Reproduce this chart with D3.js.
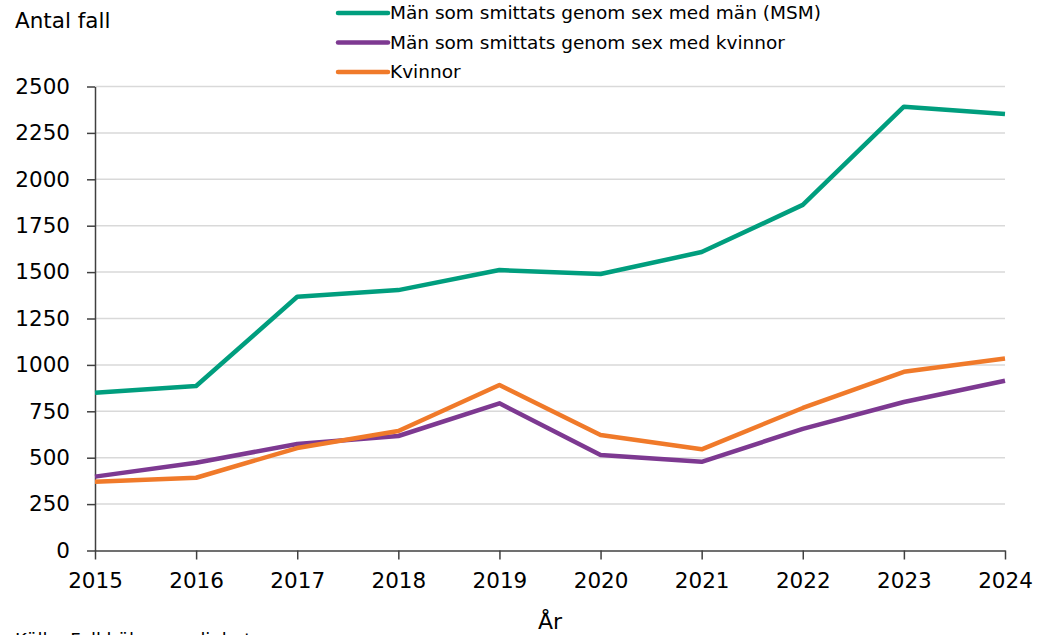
<!DOCTYPE html>
<html>
<head>
<meta charset="utf-8">
<script src="https://cdn.jsdelivr.net/npm/d3@7"></script>
<style>
  body { margin: 0; background: #fff; }
  svg { display: block; font-family: "DejaVu Sans", Verdana, sans-serif; }
</style>
</head>
<body>
<div id="container"></div>
<script>
let years = [2015, 2016, 2017, 2018, 2019, 2020, 2021, 2022, 2023, 2024];
let yTicks = [0, 250, 500, 750, 1000, 1250, 1500, 1750, 2000, 2250, 2500];

let msm = [850, 886, 1367, 1403, 1511, 1490, 1608, 1862, 2391, 2352];
let menWomen = [398, 473, 574, 617, 793, 514, 478, 655, 800, 915];
let women = [371, 392, 552, 644, 892, 622, 545, 768, 963, 1035];

let seriesNames = [
  "Män som smittats genom sex med män (MSM)",
  "Män som smittats genom sex med kvinnor",
  "Kvinnor"
];
let seriesColors = ["#009e7e", "#7d3991", "#f07a2a"];
let seriesValues = [msm, menWomen, women];

let w = 1054;
let h = 635;

let viz = d3.select("#container")
  .append("svg")
    .attr("width", w)
    .attr("height", h)
;

let xScale = d3.scaleLinear().domain([2015, 2024]).range([95, 1005]);
let yScale = d3.scaleLinear().domain([0, 2500]).range([550.5, 86.5]);

// gridlines
viz.append("g")
  .selectAll("line")
  .data(yTicks.slice(1))
  .enter()
  .append("line")
    .attr("x1", xScale(2015))
    .attr("x2", xScale(2024))
    .attr("y1", d => yScale(d))
    .attr("y2", d => yScale(d))
    .attr("stroke", "#d9d9d9")
    .attr("stroke-width", 1.5)
;

let yAxis = d3.axisLeft(yScale).tickValues(yTicks).tickFormat(d3.format("d"))
  .tickSize(8).tickPadding(17).tickSizeOuter(0);
let yAxisGroup = viz.append("g")
    .attr("transform", "translate(" + xScale(2015) + ",0)")
    .call(yAxis)
;
yAxisGroup.selectAll("text").attr("font-size", "21.5px").attr("fill", "#000").attr("font-family", "DejaVu Sans");
yAxisGroup.selectAll("line, path").attr("stroke", "#404040").attr("stroke-width", 1.5);

let xAxis = d3.axisBottom(xScale).tickValues(years).tickFormat(d3.format("d"))
  .tickSize(9).tickPadding(13).tickSizeOuter(0);
let xAxisGroup = viz.append("g")
    .attr("transform", "translate(0," + yScale(0) + ")")
    .call(xAxis)
;
xAxisGroup.selectAll("text").attr("font-size", "21.5px").attr("fill", "#000").attr("font-family", "DejaVu Sans");
xAxisGroup.selectAll("line, path").attr("stroke", "#404040").attr("stroke-width", 1.5);

// lines
let line = d3.line()
  .x((d, i) => xScale(years[i]))
  .y(d => yScale(d));

viz.append("g")
  .selectAll("path")
  .data(seriesValues)
  .enter()
  .append("path")
    .attr("d", d => line(d))
    .attr("fill", "none")
    .attr("stroke", (d, i) => seriesColors[i])
    .attr("stroke-width", 4.5)
    .attr("stroke-linejoin", "round")
;

// legend
let legend = viz.append("g").selectAll("g")
  .data(seriesNames)
  .enter()
  .append("g")
    .attr("transform", (d, i) => "translate(338," + (13 + i * 29.5) + ")")
;
legend.append("line")
  .attr("x1", 0).attr("x2", 50)
  .attr("stroke", (d, i) => seriesColors[i])
  .attr("stroke-width", 4.5)
  .attr("stroke-linecap", "round");
legend.append("text")
  .attr("x", 52)
  .attr("dy", "0.35em")
  .attr("font-size", "18.5px")
  .text(d => d);

viz.append("text")
  .attr("x", 15).attr("y", 28)
  .attr("font-size", "21.5px")
  .text("Antal fall");

viz.append("text")
  .attr("x", 550).attr("y", 629)
  .attr("text-anchor", "middle")
  .attr("font-size", "22px")
  .text("År");

viz.append("text")
  .attr("x", 15).attr("y", 646)
  .attr("font-size", "18px")
  .text("Källa: Folkhälsomyndigheten");
</script>
</body>
</html>
